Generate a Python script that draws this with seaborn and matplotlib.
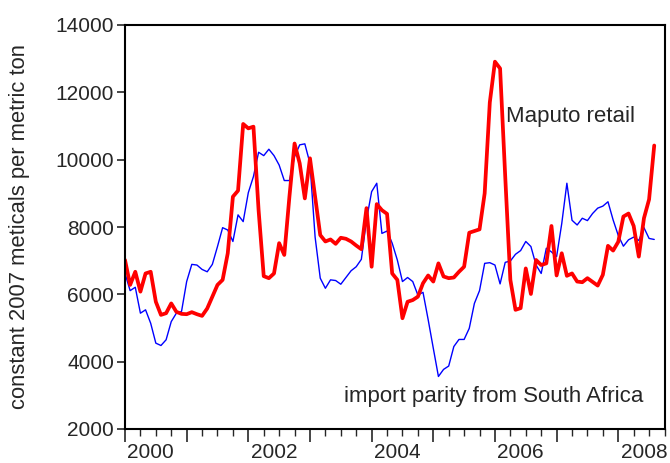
import numpy as np
import pandas as pd
import matplotlib
matplotlib.use("Agg")
import matplotlib.pyplot as plt
import seaborn as sns
from matplotlib.ticker import MultipleLocator

# Monthly data, Jan 2000 .. Aug 2008 (constant 2007 meticals per metric ton)
start_year = 2000
maputo_retail = [
    7020, 6280, 6670, 6080, 6620, 6670, 5780, 5390, 5440, 5730, 5480, 5420,
    5410, 5470, 5410, 5360, 5580, 5930, 6280, 6430, 7220, 8900, 9080, 11060,
    10930, 10980, 8500, 6540, 6480, 6620, 7520, 7170, 8900, 10480, 9890, 8850,
    10040, 8900, 7760, 7570, 7630, 7500, 7680, 7650, 7570, 7450, 7340, 8560,
    6820, 8680, 8500, 8390, 6620, 6430, 5290, 5780, 5830, 5930, 6330, 6560,
    6380, 6920, 6530, 6480, 6500, 6670, 6820, 7830, 7880, 7930, 9000, 11700,
    12910, 12710, 9500, 6430, 5540, 5590, 6770, 6010, 7020, 6870, 6920, 8030,
    6560, 7220, 6550, 6620, 6380, 6360, 6480, 6370, 6260, 6580, 7440, 7300,
    7560, 8310, 8400, 8030, 7120, 8260, 8820, 10420,
]
import_parity = [
    6620, 6110, 6210, 5440, 5540, 5140, 4550, 4480, 4650, 5190, 5440, 5490,
    6380, 6890, 6870, 6740, 6670, 6890, 7420, 7980, 7910, 7570, 8360, 8160,
    9020, 9500, 10220, 10120, 10310, 10120, 9840, 9380, 9380, 10090, 10440, 10470,
    9890, 7700, 6480, 6180, 6430, 6410, 6300, 6500, 6700, 6820, 7040, 8210,
    9050, 9300, 7810, 7880, 7520, 7020, 6380, 6500, 6380, 5980, 6060, 5250,
    4400, 3560, 3770, 3870, 4450, 4660, 4660, 4990, 5730, 6110, 6920, 6940,
    6870, 6310, 6950, 6990, 7190, 7300, 7570, 7420, 6870, 6620, 7370, 7260,
    7120, 8100, 9300, 8200, 8060, 8260, 8190, 8400, 8560, 8620, 8750, 8210,
    7750, 7430, 7620, 7700, 7600, 7980, 7660, 7630,
]
year_labels = ["2000", "2002", "2004", "2006", "2008"]
y_ticks = [2000, 4000, 6000, 8000, 10000, 12000, 14000]

n = len(maputo_retail)
t = start_year + np.arange(n) / 12.0
df = pd.DataFrame({"t": t, "Maputo retail": maputo_retail,
                   "import parity": import_parity})

sns.set_style("white")
plt.rcParams["font.family"] = ["Liberation Sans", "DejaVu Sans"]

fig = plt.figure(figsize=(6.7, 4.63), dpi=100)
ax = fig.add_axes([125 / 670, 1 - 429 / 463, (664.5 - 125) / 670, (429 - 25) / 463])

sns.lineplot(data=df, x="t", y="import parity", color="#0000FF", linewidth=1.0, ax=ax)
sns.lineplot(data=df, x="t", y="Maputo retail", color="#FF0000", linewidth=2.7, ax=ax)

ax.set_xlim(2000, 2008.75)
ax.set_ylim(2000, 14000)
ax.set_yticks(y_ticks)
ax.set_yticklabels([str(v) for v in y_ticks])
ax.xaxis.set_major_locator(MultipleLocator(1))
ax.xaxis.set_minor_locator(MultipleLocator(0.25))
ax.set_xticklabels(["" for _ in ax.get_xticks()])
for lab in year_labels:
    ax.text(int(lab) + 0.04, -0.035, lab, transform=ax.get_xaxis_transform(),
            ha="left", va="top", fontsize=15)

ax.set_xlabel("")
ax.set_ylabel("constant 2007 meticals per metric ton", fontsize=15.8, labelpad=18)
ax.tick_params(axis="y", which="major", direction="out", length=6, width=1.2,
               labelsize=15, left=True, right=False, pad=2)
ax.tick_params(axis="x", which="major", direction="out", length=9, width=1.2,
               bottom=True, top=False)
ax.tick_params(axis="x", which="minor", direction="out", length=5, width=1.0,
               bottom=True, top=False)
for s in ax.spines.values():
    s.set_color("black")
    s.set_linewidth(1.5)

ax.text(2006.18, 11270, "Maputo retail", fontsize=16, ha="left", va="center")
ax.text(2003.56, 2980, "import parity from South Africa", fontsize=16,
        ha="left", va="center")

fig.savefig("out.png", dpi=100)
